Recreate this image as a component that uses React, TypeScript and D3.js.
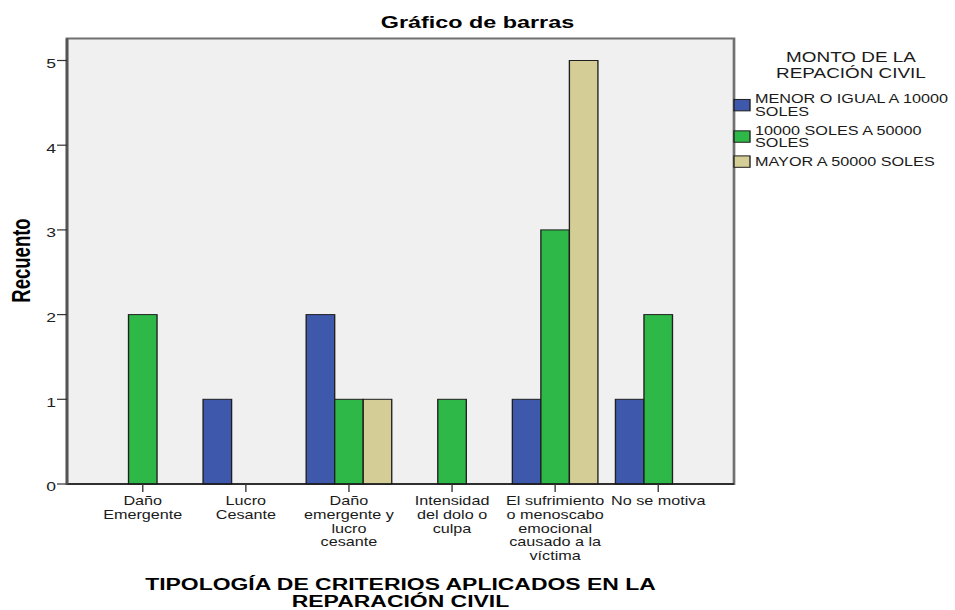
import React, { useEffect, useRef } from 'react';
import * as d3 from 'd3';

// Chart data
const categories = [
  'Daño\nEmergente',
  'Lucro\nCesante',
  'Daño\nemergente y\nlucro\ncesante',
  'Intensidad\ndel dolo o\nculpa',
  'El sufrimiento\no menoscabo\nemocional\ncausado a la\nvíctima',
  'No se motiva',
];
const seriesNames = [
  'MENOR O IGUAL A 10000\nSOLES',
  '10000 SOLES A 50000\nSOLES',
  'MAYOR A 50000 SOLES',
];
const menorValues = [0, 1, 2, 0, 1, 1];
const medioValues = [2, 0, 1, 1, 3, 2];
const mayorValues = [0, 0, 1, 0, 5, 0];
const yTicks = [0, 1, 2, 3, 4, 5];
const seriesColors = ['#3e58ac', '#2eb848', '#d4ce96'];

const chartTitle = 'Gráfico de barras';
const yTitle = 'Recuento';
const xTitle = 'TIPOLOGÍA DE CRITERIOS APLICADOS EN LA\nREPARACIÓN CIVIL';
const legendTitle = 'MONTO DE LA\nREPACIÓN CIVIL';

const FONT = 'Arial, "Liberation Sans", sans-serif';

// the original picture is stretched horizontally, so we draw in a narrower
// coordinate system and let the viewBox stretch it
const SX = 1.35;
const WIDTH = 955;
const HEIGHT = 610;

const App: React.FC = () => {
  const svgRef = useRef<SVGSVGElement>(null);

  useEffect(() => {
    if (!svgRef.current) return;
    d3.select(svgRef.current).selectAll('*').remove();

    const W = WIDTH / SX;
    const svg = d3.select(svgRef.current);

    const plot = { left: 67 / SX, right: 734 / SX, top: 38.5, bottom: 484 };

    const x = d3.scaleBand<string>()
      .domain(categories)
      .range([plot.left, plot.right])
      .paddingInner(0.17)
      .paddingOuter(0.32);

    const xs = d3.scaleBand<number>()
      .domain([0, 1, 2])
      .range([0, x.bandwidth()]);

    const y = d3.scaleLinear().domain([0, 5]).range([plot.bottom, 60.5]);

    // Plot background + frame
    svg.append('rect')
      .attr('x', plot.left)
      .attr('y', plot.top)
      .attr('width', plot.right - plot.left)
      .attr('height', plot.bottom - plot.top)
      .attr('fill', '#f0f0f0')
      .attr('stroke', '#707070')
      .attr('stroke-width', 2);

    // Bars
    const series = [menorValues, medioValues, mayorValues];
    series.forEach((vals, si) => {
      svg.append('g')
        .selectAll('rect')
        .data(categories.map((c, i) => ({ c, v: vals[i] })).filter(d => d.v > 0))
        .enter()
        .append('rect')
        .attr('x', d => (x(d.c) as number) + (xs(si) as number))
        .attr('y', d => y(d.v))
        .attr('width', xs.bandwidth())
        .attr('height', d => y(0) - y(d.v))
        .attr('fill', seriesColors[si])
        .attr('stroke', '#1f1f1f')
        .attr('stroke-width', 1);
    });

    // Bottom axis line
    svg.append('line')
      .attr('x1', plot.left)
      .attr('x2', plot.right)
      .attr('y1', y(0))
      .attr('y2', y(0))
      .attr('stroke', '#1a1a1a')
      .attr('stroke-width', 1.5);

    // Left axis line
    svg.append('line')
      .attr('x1', plot.left)
      .attr('x2', plot.left)
      .attr('y1', plot.top)
      .attr('y2', plot.bottom)
      .attr('stroke', '#555')
      .attr('stroke-width', 2);

    // Y ticks
    const yt = svg.append('g');
    yTicks.forEach(t => {
      yt.append('line')
        .attr('x1', plot.left - 7.4)
        .attr('x2', plot.left)
        .attr('y1', y(t))
        .attr('y2', y(t))
        .attr('stroke', '#333')
        .attr('stroke-width', 1.2);
      yt.append('text')
        .attr('x', 56 / SX)
        .attr('y', y(t) + 7.5)
        .attr('text-anchor', 'end')
        .attr('font-family', FONT)
        .attr('font-size', 13)
        .attr('fill', '#222')
        .text(t);
    });

    // X ticks + labels
    const xt = svg.append('g');
    categories.forEach(c => {
      const cx = (x(c) as number) + x.bandwidth() / 2;
      xt.append('line')
        .attr('x1', cx)
        .attr('x2', cx)
        .attr('y1', plot.bottom)
        .attr('y2', plot.bottom + 8)
        .attr('stroke', '#333')
        .attr('stroke-width', 1);
      const txt = xt.append('text')
        .attr('text-anchor', 'middle')
        .attr('font-family', FONT)
        .attr('font-size', 12)
        .attr('fill', '#1a1a1a');
      c.split('\n').forEach((line, li) => {
        txt.append('tspan')
          .attr('x', cx)
          .attr('y', 505 + li * 13.8)
          .text(line);
      });
    });

    // Titles
    svg.append('text')
      .attr('x', W / 2)
      .attr('y', 27.7)
      .attr('text-anchor', 'middle')
      .attr('font-family', FONT)
      .attr('font-weight', 'bold')
      .attr('font-size', 17.3)
      .attr('fill', '#000')
      .text(chartTitle);

    const xTitleText = svg.append('text')
      .attr('text-anchor', 'middle')
      .attr('font-family', FONT)
      .attr('font-weight', 'bold')
      .attr('font-size', 17)
      .attr('fill', '#000');
    xTitle.split('\n').forEach((line, li) => {
      xTitleText.append('tspan')
        .attr('x', (plot.left + plot.right) / 2)
        .attr('y', 590 + li * 17)
        .text(line);
    });

    svg.append('text')
      .attr('transform', `translate(${22.2}, ${260.5}) rotate(-90)`)
      .attr('text-anchor', 'middle')
      .attr('font-family', FONT)
      .attr('font-weight', 'bold')
      .attr('font-size', 18.5)
      .attr('fill', '#000')
      .text(yTitle);

    // Legend
    const legend = svg.append('g');
    const lt = legend.append('text')
      .attr('text-anchor', 'middle')
      .attr('font-family', FONT)
      .attr('font-size', 14)
      .attr('fill', '#1a1a1a');
    legendTitle.split('\n').forEach((line, li) => {
      lt.append('tspan')
        .attr('x', 851 / SX)
        .attr('y', 61.7 + li * 16.6)
        .text(line);
    });

    let baseline = 103.3;
    seriesNames.forEach((name, si) => {
      const lines = name.split('\n');
      const blockTop = baseline - 9;
      const blockBottom = baseline + (lines.length - 1) * 12.7;
      const mid = (blockTop + blockBottom) / 2;
      legend.append('rect')
        .attr('x', 734 / SX)
        .attr('y', mid - 5.7)
        .attr('width', 16 / SX)
        .attr('height', 11.4)
        .attr('fill', seriesColors[si])
        .attr('stroke', '#1f1f1f')
        .attr('stroke-width', 1);
      const t = legend.append('text')
        .attr('font-family', FONT)
        .attr('font-size', 12)
        .attr('fill', '#1a1a1a');
      lines.forEach((line, li) => {
        t.append('tspan')
          .attr('x', 755 / SX)
          .attr('y', baseline + li * 12.7)
          .text(line);
      });
      baseline += lines.length * 12.7 + 6;
    });
  }, []);

  return (
    <svg
      ref={svgRef}
      width={WIDTH}
      height={HEIGHT}
      viewBox={`0 0 ${WIDTH / SX} ${HEIGHT}`}
      preserveAspectRatio="none"
      style={{ position: 'absolute', left: 0, top: 0, background: '#fff' }}
    />
  );
};

export default App;
